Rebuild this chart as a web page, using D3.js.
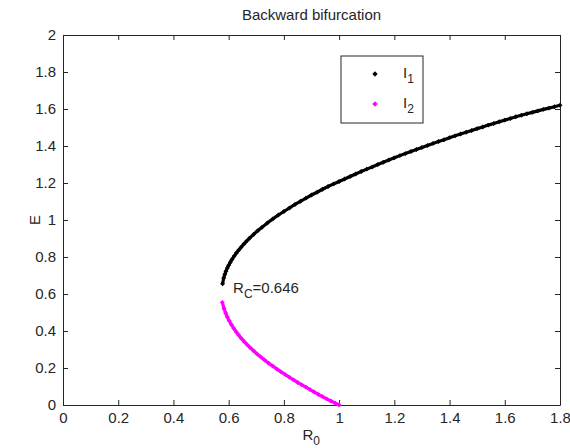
<!DOCTYPE html>
<html>
<head>
<meta charset="utf-8">
<script src="https://cdn.jsdelivr.net/npm/d3@7"></script>
<style>
  body { margin: 0; background: #fff; }
  text { font-family: Arial, "Liberation Sans", sans-serif; fill: #262626; }
</style>
</head>
<body>
<svg id="chart" width="570" height="448"></svg>
<script>
// upper branch I1
const upperR = [0.578, 0.582, 0.586, 0.590, 0.595, 0.600, 0.606, 0.612, 0.620, 0.628,
  0.636, 0.645, 0.655, 0.665, 0.675, 0.690, 0.705, 0.720, 0.740, 0.760,
  0.780, 0.800, 0.820, 0.840, 0.860, 0.880, 0.900, 0.920, 0.940, 0.960,
  0.980, 1.000, 1.020, 1.040, 1.060, 1.080, 1.100, 1.120, 1.140, 1.160,
  1.180, 1.200, 1.220, 1.240, 1.260, 1.280, 1.300, 1.320, 1.340, 1.360,
  1.380, 1.400, 1.420, 1.440, 1.460, 1.480, 1.500, 1.520, 1.540, 1.560,
  1.580, 1.600, 1.620, 1.640, 1.660, 1.680, 1.700, 1.720, 1.740, 1.760,
  1.780, 1.800];
const upperE = [0.655, 0.687, 0.706, 0.723, 0.740, 0.755, 0.772, 0.787, 0.805, 0.822,
  0.837, 0.853, 0.870, 0.886, 0.901, 0.922, 0.942, 0.960, 0.984, 1.006,
  1.027, 1.046, 1.065, 1.084, 1.101, 1.118, 1.135, 1.150, 1.166, 1.181,
  1.195, 1.208, 1.222, 1.235, 1.249, 1.262, 1.275, 1.287, 1.300, 1.312,
  1.324, 1.336, 1.348, 1.359, 1.370, 1.381, 1.392, 1.403, 1.414, 1.424,
  1.434, 1.445, 1.455, 1.465, 1.474, 1.484, 1.494, 1.503, 1.513, 1.522,
  1.531, 1.540, 1.549, 1.558, 1.566, 1.574, 1.582, 1.590, 1.598, 1.605,
  1.612, 1.620];

// lower branch I2
const lowerR = [0.577, 0.583, 0.589, 0.595, 0.602, 0.610, 0.618, 0.627, 0.636, 0.646,
  0.656, 0.667, 0.678, 0.690, 0.703, 0.716, 0.730, 0.745, 0.760, 0.775,
  0.790, 0.805, 0.820, 0.835, 0.850, 0.865, 0.880, 0.895, 0.910, 0.925,
  0.940, 0.955, 0.970, 0.985, 1.000];
const lowerE = [0.555, 0.522, 0.497, 0.476, 0.455, 0.434, 0.415, 0.396, 0.378, 0.360,
  0.343, 0.326, 0.310, 0.293, 0.276, 0.260, 0.243, 0.226, 0.210, 0.194,
  0.179, 0.164, 0.150, 0.136, 0.122, 0.109, 0.096, 0.083, 0.070, 0.057,
  0.045, 0.033, 0.022, 0.011, 0.000];

const xTicks = [0, 0.2, 0.4, 0.6, 0.8, 1, 1.2, 1.4, 1.6, 1.8];
const xTickLabels = ["0", "0.2", "0.4", "0.6", "0.8", "1", "1.2", "1.4", "1.6", "1.8"];
const yTicks = [0, 0.2, 0.4, 0.6, 0.8, 1, 1.2, 1.4, 1.6, 1.8, 2];
const yTickLabels = ["0", "0.2", "0.4", "0.6", "0.8", "1", "1.2", "1.4", "1.6", "1.8", "2"];

const width = 570, height = 448;
const margin = {top: 35, right: 10, bottom: 43, left: 63};

const x = d3.scaleLinear().domain([0, 1.8]).range([margin.left, width - margin.right]);
const y = d3.scaleLinear().domain([0, 2]).range([height - margin.bottom, margin.top]);

const svg = d3.select("#chart");
const fontSize = 15, subSize = 12;

// axes (box with inward ticks on all sides)
const tick = 5;
svg.append("g")
  .attr("transform", `translate(0,${y(0)})`)
  .call(d3.axisBottom(x).tickValues(xTicks).tickSize(-tick).tickPadding(7)
    .tickFormat((d, i) => xTickLabels[i]).tickSizeOuter(0))
  .call(g => g.selectAll("text").attr("font-size", fontSize));
svg.append("g")
  .attr("transform", `translate(0,${y(2)})`)
  .call(d3.axisTop(x).tickValues(xTicks).tickSize(-tick).tickFormat("").tickSizeOuter(0));
svg.append("g")
  .attr("transform", `translate(${x(0)},0)`)
  .call(d3.axisLeft(y).tickValues(yTicks).tickSize(-tick).tickPadding(7)
    .tickFormat((d, i) => yTickLabels[i]).tickSizeOuter(0))
  .call(g => g.selectAll("text").attr("font-size", fontSize));
svg.append("g")
  .attr("transform", `translate(${x(1.8)},0)`)
  .call(d3.axisRight(y).tickValues(yTicks).tickSize(-tick).tickFormat("").tickSizeOuter(0));
svg.selectAll(".domain, .tick line").attr("stroke", "#262626");
svg.selectAll("g").attr("font-family", null);

// series
const upper = upperR.map((r, i) => [r, upperE[i]]);
const lower = lowerR.map((r, i) => [r, lowerE[i]]);
const line = d3.line().x(d => x(d[0])).y(d => y(d[1]));
const diamond = d3.symbol(d3.symbolSquare, 12);

function drawSeries(data, color) {
  svg.append("path").datum(data)
    .attr("d", line).attr("fill", "none")
    .attr("stroke", color).attr("stroke-width", 3.2);
  svg.append("g").selectAll("path").data(data).join("path")
    .attr("d", diamond)
    .attr("transform", d => `translate(${x(d[0])},${y(d[1])}) rotate(45)`)
    .attr("fill", color);
}
drawSeries(upper, "#000");
drawSeries(lower, "#ff00ff");

// annotation
const ann = svg.append("text").attr("x", x(0.616)).attr("y", y(0.632) + 5).attr("font-size", fontSize);
ann.append("tspan").text("R");
ann.append("tspan").attr("font-size", subSize).attr("dy", 5).text("C");
ann.append("tspan").attr("dy", -5).text("=0.646");

// title and axis labels
svg.append("text").attr("x", (x(0) + x(1.8)) / 2).attr("y", 20)
  .attr("text-anchor", "middle").attr("font-size", fontSize).text("Backward bifurcation");
const xl = svg.append("text").attr("x", x(0.9) - 9).attr("y", 440).attr("font-size", fontSize);
xl.append("tspan").text("R");
xl.append("tspan").attr("font-size", subSize).attr("dy", 5).text("0");
svg.append("text").attr("transform", `translate(40,${y(1)}) rotate(-90)`)
  .attr("text-anchor", "middle").attr("font-size", fontSize).text("E");

// legend
const lx0 = 341, ly0 = 56, lw = 82, lh = 67;
svg.append("rect").attr("x", lx0).attr("y", ly0).attr("width", lw).attr("height", lh)
  .attr("fill", "#fff").attr("stroke", "#262626");
const legendItems = [["I", "1", "#000"], ["I", "2", "#ff00ff"]];
legendItems.forEach((it, i) => {
  const cy = ly0 + 18 + i * 30;
  svg.append("path").attr("d", d3.symbol(d3.symbolSquare, 14))
    .attr("transform", `translate(${lx0 + 34},${cy}) rotate(45)`).attr("fill", it[2]);
  const t = svg.append("text").attr("x", lx0 + 62).attr("y", cy + 4).attr("font-size", fontSize);
  t.append("tspan").text(it[0]);
  t.append("tspan").attr("font-size", subSize).attr("dy", 5).text(it[1]);
});
</script>
</body>
</html>
